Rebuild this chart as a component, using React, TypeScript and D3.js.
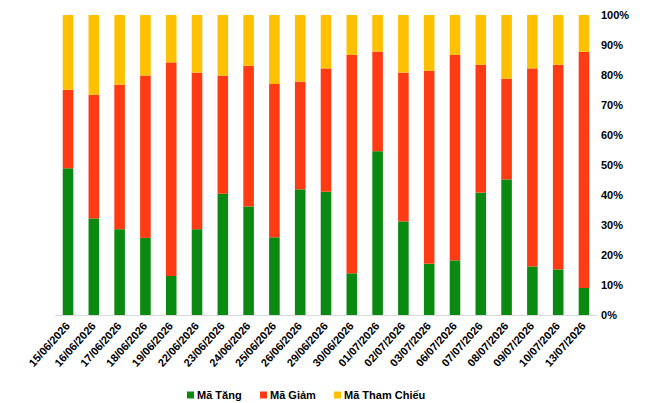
import * as React from 'react';
import * as d3 from 'd3';

const dates = [
  '15/06/2026', '16/06/2026', '17/06/2026', '18/06/2026', '19/06/2026',
  '22/06/2026', '23/06/2026', '24/06/2026', '25/06/2026', '26/06/2026',
  '29/06/2026', '30/06/2026', '01/07/2026', '02/07/2026', '03/07/2026',
  '06/07/2026', '07/07/2026', '08/07/2026', '09/07/2026', '10/07/2026',
  '13/07/2026',
];

// % of stocks per session
const tang = [48.9, 32.2, 28.6, 25.7, 13.0, 28.6, 40.4, 36.2, 25.9, 41.9, 41.1, 13.9, 54.6, 31.2, 17.1, 18.2, 40.8, 45.2, 16.2, 15.2, 9.0];
const giam = [26.2, 41.2, 48.2, 54.1, 71.2, 52.2, 39.4, 46.9, 51.1, 35.9, 41.1, 72.8, 33.2, 49.6, 64.3, 68.5, 42.6, 33.6, 66.0, 68.2, 78.7];
const thamChieu = [24.9, 26.6, 23.2, 20.2, 15.8, 19.2, 20.2, 16.9, 23.0, 22.2, 17.8, 13.3, 12.2, 19.2, 18.6, 13.3, 16.6, 21.2, 17.8, 16.6, 12.3];

const seriesNames = ['Mã Tăng', 'Mã Giảm', 'Mã Tham Chiếu'];
const colors = ['#0b8a12', '#ff3b14', '#ffc000'];
const yTicks = [0, 10, 20, 30, 40, 50, 60, 70, 80, 90, 100];

const W = 646;
const H = 403;
const font = '"Liberation Sans", Arial, sans-serif';

export default function App() {
  const rows = dates.map((d, i) => ({ date: d, t: tang[i], g: giam[i], c: thamChieu[i] }));
  const stack = d3.stack<typeof rows[0]>().keys(['t', 'g', 'c'])
    .offset(d3.stackOffsetExpand);
  const layers = stack(rows);

  const x = d3.scaleBand().domain(dates).range([55, 597]).paddingInner(0.59).paddingOuter(0.3);
  const y = d3.scaleLinear().domain([0, 1]).range([315, 15]);

  // legend layout
  const legendX = [187, 260, 334];

  return (
    <div style={{ position: 'absolute', left: 0, top: 0 }}>
      <svg width={W} height={H} style={{ display: 'block', background: '#fff' }} fontFamily={font}>
        {layers.map((layer, li) => (
          <g key={li} fill={colors[li]}>
            {layer.map((d, i) => (
              <rect
                key={i}
                x={x(dates[i])}
                y={y(d[1])}
                width={x.bandwidth()}
                height={y(d[0]) - y(d[1])}
              />
            ))}
          </g>
        ))}

        <line x1={55} x2={597} y1={315.5} y2={315.5} stroke="#d9d9d9" strokeWidth={1} />

        {yTicks.map((t) => (
          <text key={t} x={601} y={y(t / 100)} dy="0.35em" fontSize={11} fontWeight="bold" fill="#000">
            {t}%
          </text>
        ))}

        {dates.map((d) => {
          const cx = (x(d) as number) + x.bandwidth() / 2 + 2.5;
          return (
            <text
              key={d}
              transform={`translate(${cx},${326.5}) rotate(-48)`}
              textAnchor="end"
              fontSize={11}
              fontWeight="bold"
              fill="#000"
            >
              {d}
            </text>
          );
        })}

        {seriesNames.map((n, i) => (
          <g key={n} transform={`translate(${legendX[i]},395)`}>
            <rect x={0} y={-3.5} width={7} height={7} fill={colors[i]} />
            <text x={10} dy="0.35em" fontSize={11} fontWeight="bold" fill="#000">{n}</text>
          </g>
        ))}
      </svg>
    </div>
  );
}
